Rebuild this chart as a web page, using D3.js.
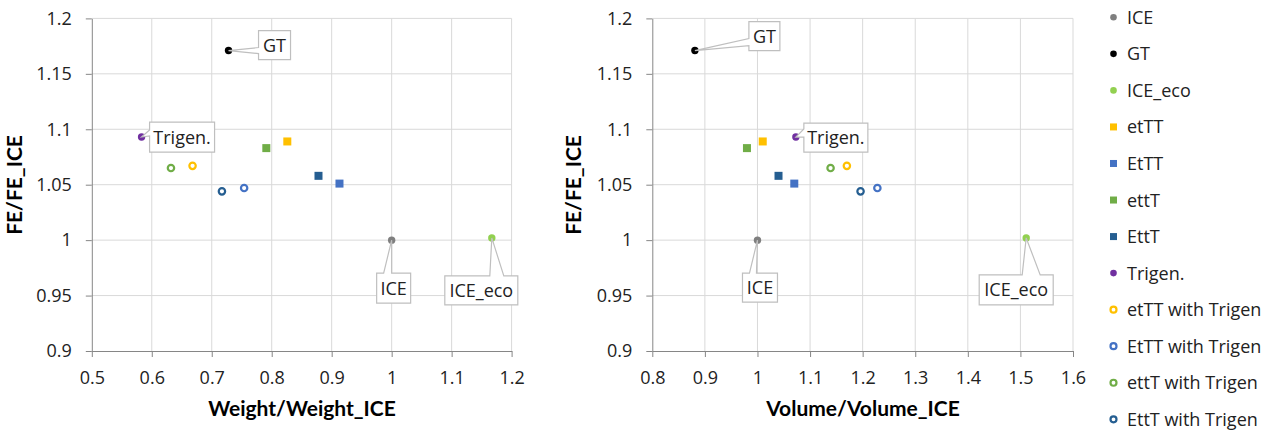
<!DOCTYPE html>
<html>
<head>
<meta charset="utf-8">
<script src="https://cdn.jsdelivr.net/npm/d3@7/dist/d3.min.js"></script>
<style>
  body { margin: 0; background: #fff; }
  svg { display: block; font-family: "Open Sans", Lato, sans-serif; }
</style>
</head>
<body>
<svg id="chart" width="1274" height="432"></svg>
<script>
// Series (same order as the legend)
var seriesNames = ['ICE', 'GT', 'ICE_eco', 'etTT', 'EtTT', 'ettT', 'EttT', 'Trigen.',
                   'etTT with Trigen', 'EtTT with Trigen', 'ettT with Trigen', 'EttT with Trigen'];
var seriesColors = ['#7f7f7f', '#000000', '#92d050', '#ffc000', '#4472c4', '#70ad47', '#255e91', '#7030a0',
                    '#ffc000', '#4472c4', '#70ad47', '#255e91'];
var seriesShapes = ['dot', 'dot', 'dot', 'square', 'square', 'square', 'square', 'dot',
                    'ring', 'ring', 'ring', 'ring'];

// Values
var weightRatio = [1.000, 0.728, 1.167, 0.826, 0.913, 0.791, 0.878, 0.583, 0.668, 0.754, 0.632, 0.717];
var volumeRatio = [1.000, 0.881, 1.511, 1.010, 1.070, 0.980, 1.040, 1.073, 1.170, 1.228, 1.139, 1.196];
var feRatio     = [1.000, 1.171, 1.002, 1.089, 1.051, 1.083, 1.058, 1.093, 1.067, 1.047, 1.065, 1.044];

// Tick values
var feTicks = [0.9, 0.95, 1, 1.05, 1.1, 1.15, 1.2];
var weightTicks = [0.5, 0.6, 0.7, 0.8, 0.9, 1, 1.1, 1.2];
var volumeTicks = [0.8, 0.9, 1, 1.1, 1.2, 1.3, 1.4, 1.5, 1.6];

// Which points get a callout label
var calloutNames = ['GT', 'Trigen.', 'ICE', 'ICE_eco'];

var svg = d3.select('#chart');
var fmt = function(d) { return String(+d.toFixed(2)); };

// box offset from the point, box size, side the pointer sits on, pointer base along that side
var leftCallouts = {
  'GT':      {dx: 30, dy: -20, w: 32, h: 29, side: 'left', a: 17, b: 23},
  'Trigen.': {dx: 8, dy: -15, w: 65, h: 30, side: 'left', a: 8, b: 14},
  'ICE':     {dx: -15, dy: 33, w: 34, h: 30, side: 'top', a: 7, b: 15},
  'ICE_eco': {dx: -47, dy: 38, w: 73, h: 29, side: 'top', a: 45, b: 59}
};
var rightCallouts = {
  'GT':      {dx: 54, dy: -29, w: 31, h: 29, side: 'left', a: 17, b: 24},
  'Trigen.': {dx: 8, dy: -14, w: 64, h: 29, side: 'left', a: 6, b: 14},
  'ICE':     {dx: -15, dy: 33, w: 35, h: 29, side: 'top', a: 7, b: 14},
  'ICE_eco': {dx: -47, dy: 37, w: 74, h: 30, side: 'top', a: 43, b: 61}
};

var y = d3.scaleLinear().domain([0.9, 1.2]).range([351, 18.4]);

function drawPanel(xs, xTicks, xTitle, titleX, yTitleX, callouts) {
  var x = d3.scaleLinear().domain([xTicks[0], xTicks[xTicks.length - 1]]).range(xs);
  var g = svg.append('g');

  // grid
  g.selectAll('.gx').data(xTicks.slice(1)).enter().append('line')
    .attr('x1', x).attr('x2', x).attr('y1', y(0.9)).attr('y2', y(1.2))
    .attr('stroke', '#d9d9d9');
  g.selectAll('.gy').data(feTicks.slice(1)).enter().append('line')
    .attr('x1', xs[0]).attr('x2', xs[1]).attr('y1', y).attr('y2', y)
    .attr('stroke', '#d9d9d9');

  // axes
  var ax = g.append('g').attr('transform', 'translate(0,' + y(0.9) + ')')
    .call(d3.axisBottom(x).tickValues(xTicks).tickFormat(fmt).tickSize(6).tickSizeOuter(0));
  ax.selectAll('text').attr('y', 32.5).attr('dy', 0);
  var ay = g.append('g').attr('transform', 'translate(' + xs[0] + ',0)')
    .call(d3.axisLeft(y).tickValues(feTicks).tickFormat(fmt).tickSize(6).tickSizeOuter(0));
  ay.selectAll('text').attr('x', -20);
  g.selectAll('.domain, .tick line').attr('stroke', '#868686');
  g.selectAll('.tick text').attr('font-family', '"Open Sans"').attr('font-size', 18).attr('fill', '#222');

  // axis titles
  g.append('text').attr('x', titleX).attr('y', 416).attr('text-anchor', 'middle')
    .attr('font-family', 'Lato').attr('font-size', 21).attr('font-weight', 'bold').text(xTitle);
  g.append('text').attr('transform', 'translate(' + yTitleX + ',185) rotate(-90)')
    .attr('text-anchor', 'middle').attr('font-family', 'Lato').attr('font-size', 21)
    .attr('font-weight', 'bold').text('FE/FE_ICE');

  // points
  var vals = xTitle.indexOf('Weight') === 0 ? weightRatio : volumeRatio;
  seriesNames.forEach(function(name, i) {
    drawMarker(g, seriesShapes[i], seriesColors[i], x(vals[i]), y(feRatio[i]), false);
  });

  // callouts
  calloutNames.forEach(function(name) {
    var i = seriesNames.indexOf(name);
    var c = callouts[name];
    var px = x(vals[i]), py = y(feRatio[i]);
    var bx = px + c.dx, by = py + c.dy;
    var p = d3.path();
    if (c.side === 'left') {
      p.moveTo(bx, by); p.lineTo(bx + c.w, by); p.lineTo(bx + c.w, by + c.h);
      p.lineTo(bx, by + c.h); p.lineTo(bx, by + c.b); p.lineTo(px, py); p.lineTo(bx, by + c.a);
    } else {
      p.moveTo(bx, by); p.lineTo(bx + c.a, by); p.lineTo(px, py); p.lineTo(bx + c.b, by);
      p.lineTo(bx + c.w, by); p.lineTo(bx + c.w, by + c.h); p.lineTo(bx, by + c.h);
    }
    p.closePath();
    g.append('path').attr('d', p.toString()).attr('fill', '#fff')
      .attr('stroke', '#bfbfbf').attr('stroke-width', 1.2);
    g.append('text').attr('x', bx + c.w / 2).attr('y', by + c.h / 2)
      .attr('dy', '0.36em').attr('text-anchor', 'middle')
      .attr('font-size', 18).attr('fill', '#222').text(name);
  });
}

function drawMarker(g, shape, color, cx, cy, small) {
  if (shape === 'square') {
    var s = small ? 7 : 8;
    g.append('rect').attr('x', cx - s / 2).attr('y', cy - s / 2)
      .attr('width', s).attr('height', s).attr('fill', color);
  } else if (shape === 'ring') {
    g.append('circle').attr('cx', cx).attr('cy', cy).attr('r', small ? 3 : 3.2)
      .attr('fill', '#fff').attr('stroke', color).attr('stroke-width', 2.2);
  } else {
    g.append('circle').attr('cx', cx).attr('cy', cy).attr('r', small ? 3.3 : 3.7).attr('fill', color);
  }
}

drawPanel([91.8, 511.6], weightTicks, 'Weight/Weight_ICE', 302, 22, leftCallouts);
drawPanel([652.3, 1073], volumeTicks, 'Volume/Volume_ICE', 863, 581, rightCallouts);

// legend
var legend = svg.append('g');
var ly = d3.scalePoint().domain(seriesNames).range([17.3, 419.3]);
seriesNames.forEach(function(name, i) {
  drawMarker(legend, seriesShapes[i], seriesColors[i], 1113.5, ly(name), true);
  legend.append('text').attr('x', 1127).attr('y', ly(name)).attr('dy', '0.36em')
    .attr('font-size', 18).attr('fill', '#222').text(name);
});
</script>
</body>
</html>
